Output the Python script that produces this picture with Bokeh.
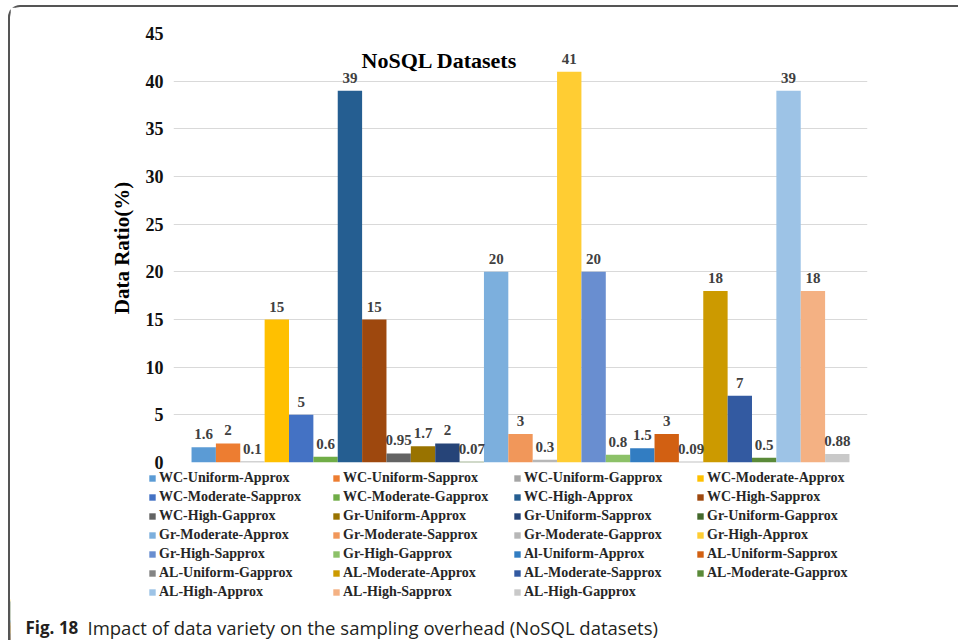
from bokeh.plotting import figure
from bokeh.layouts import column
from bokeh.models import (ColumnDataSource, Legend, LegendItem, Label, LabelSet,
                          Range1d, SingleIntervalTicker)
from bokeh.embed import file_html
from bokeh.resources import INLINE

# ---------------- data ----------------
series = [
    "WC-Uniform-Approx", "WC-Uniform-Sapprox", "WC-Uniform-Gapprox",
    "WC-Moderate-Approx", "WC-Moderate-Sapprox", "WC-Moderate-Gapprox",
    "WC-High-Approx", "WC-High-Sapprox", "WC-High-Gapprox",
    "Gr-Uniform-Approx", "Gr-Uniform-Sapprox", "Gr-Uniform-Gapprox",
    "Gr-Moderate-Approx", "Gr-Moderate-Sapprox", "Gr-Moderate-Gapprox",
    "Gr-High-Approx", "Gr-High-Sapprox", "Gr-High-Gapprox",
    "Al-Uniform-Approx", "AL-Uniform-Sapprox", "AL-Uniform-Gapprox",
    "AL-Moderate-Approx", "AL-Moderate-Sapprox", "AL-Moderate-Gapprox",
    "AL-High-Approx", "AL-High-Sapprox", "AL-High-Gapprox",
]
values = [1.6, 2, 0.1, 15, 5, 0.6, 39, 15, 0.95,
          1.7, 2, 0.07, 20, 3, 0.3, 41, 20, 0.8,
          1.5, 3, 0.09, 18, 7, 0.5, 39, 18, 0.88]
colors = ["#5B9BD5", "#ED7D31", "#A5A5A5", "#FFC000", "#4472C4", "#70AD47",
          "#255E91", "#9E480E", "#636363", "#997300", "#264478", "#43682B",
          "#7CAFDD", "#F1975A", "#B7B7B7", "#FFCD33", "#698ED0", "#8CC168",
          "#327DC2", "#D26012", "#848484", "#CC9A00", "#335AA1", "#5A8A39",
          "#9DC3E6", "#F4B183", "#C9C9C9"]
y_min, y_max, y_step = 0, 45, 5
title_text = "NoSQL Datasets"
y_label = "Data Ratio(%)"
caption_bold = "Fig. 18"
caption_rest = "Impact of data variety on the sampling overhead (NoSQL datasets)"

# ---------------- layout constants (global page px) ----------------
OX, OY = 10, 7                 # content origin inside the rounded frame
TOP_END = 475                  # page y where the chart figure ends
OVERLAP = 6                    # legend panel is pulled up over the chart's empty bottom strip
BOT_START = TOP_END - OVERLAP  # page y where the legend / caption panel starts
W = 958 - OX                   # figure width
H_TOP = TOP_END - OY           # chart figure height
H_BOT = 640 - BOT_START        # legend / caption figure height
FL, FR, FT, FB = 173, 867, 33, 462   # plot frame edges (global px)
SERIF = "Liberation Serif"

n = len(series)
labels = [f"{v:g}" for v in values]
src = ColumnDataSource(dict(x=list(range(n)), top=values, color=colors,
                            name=series, label=labels))

# ---------------- chart ----------------
pad = 0.74
p = figure(width=W, height=H_TOP,
           x_range=Range1d(-0.5 - pad, n - 0.5 + pad),
           y_range=Range1d(y_min, y_max),
           x_axis_location=None, toolbar_location=None, output_backend="svg",
           min_border_left=FL - OX, min_border_right=(OX + W) - FR,
           min_border_top=FT - OY, min_border_bottom=(OY + H_TOP) - FB)
p.frame_align = False
p.outline_line_color = None
p.background_fill_color = "white"
p.border_fill_color = "white"
p.xgrid.grid_line_color = None
p.ygrid.grid_line_color = "#D9D9D9"
p.ygrid.grid_line_width = 1

ax = p.yaxis[0]
ax.ticker = SingleIntervalTicker(interval=y_step)
ax.axis_line_color = None
ax.major_tick_line_color = None
ax.minor_tick_line_color = None
ax.major_tick_out = 0
ax.major_tick_in = 0
ax.minor_tick_out = 0
ax.major_label_standoff = 10
ax.major_label_text_font = SERIF
ax.major_label_text_font_style = "bold"
ax.major_label_text_font_size = "18px"
ax.major_label_text_line_height = 1.0
ax.major_label_text_color = "#111111"
ax.axis_label = y_label
ax.axis_label_text_font = SERIF
ax.axis_label_text_font_style = "bold"
ax.axis_label_text_font_size = "21px"
ax.axis_label_text_color = "#000000"
ax.axis_label_standoff = 9

p.vbar(x="x", top="top", width=1.0, fill_color="color", line_color=None, source=src)
p.add_layout(LabelSet(x="x", y="top", text="label", source=src,
                      text_align="center", text_baseline="alphabetic", y_offset=8,
                      text_font=SERIF, text_font_style="bold",
                      text_font_size="15px", text_color="#404040"))
p.add_layout(Label(x=439 - OX, y=60 - OY, x_units="canvas", y_units="canvas",
                   text=title_text, text_align="center", text_baseline="alphabetic",
                   text_font=SERIF, text_font_style="bold", text_font_size="22px",
                   text_color="#000000"))

# ---------------- legend + caption panel ----------------
q = figure(width=W, height=H_BOT,
           x_range=Range1d(1000, 1000 + W), y_range=Range1d(0, H_BOT),
           x_axis_location=None, y_axis_location=None,
           toolbar_location=None, output_backend="svg",
           min_border_left=0, min_border_right=0, min_border_top=0, min_border_bottom=0)
q.frame_align = False
q.margin = (-OVERLAP, 0, 0, 0)
q.outline_line_color = None
q.background_fill_alpha = 0
q.border_fill_alpha = 0
q.xgrid.grid_line_color = None
q.ygrid.grid_line_color = None
# same bars (out of view) only to feed the legend swatches
rq = q.vbar(x="x", top="top", width=1.0, fill_color="color", line_color=None, source=src)

col_x = [148, 332, 513, 696]     # global px of swatch left edges
row1_center = 478                # global px
row_h, gap = 16, 3
for c in range(4):
    idx = list(range(c, n, 4))
    items = [LegendItem(label=series[i], renderers=[rq], index=i) for i in idx]
    k = len(idx)
    top_local = (row1_center - BOT_START) - row_h / 2
    bottom_local = top_local + k * row_h + (k - 1) * gap
    leg = Legend(items=items, location=(col_x[c] - OX, H_BOT - bottom_local),
                 orientation="vertical", padding=0, margin=0, spacing=gap,
                 glyph_width=8, glyph_height=8, label_height=row_h,
                 label_standoff=3,
                 label_text_font=SERIF, label_text_font_style="bold",
                 label_text_font_size="14px", label_text_color="#262626",
                 background_fill_alpha=0, border_line_color=None)
    q.add_layout(leg, "center")

q.add_layout(Label(x=25 - OX, y=627 - BOT_START, x_units="canvas", y_units="canvas",
                   text=caption_bold, text_align="left", text_baseline="alphabetic",
                   text_font="Open Sans", text_font_style="bold", text_font_size="17px",
                   text_color="#231F20"))
q.add_layout(Label(x=87 - OX, y=627 - BOT_START, x_units="canvas", y_units="canvas",
                   text=caption_rest, text_align="left", text_baseline="alphabetic",
                   text_font="Open Sans", text_font_size="18.5px",
                   text_color="#231F20"))

layout = column(p, q, spacing=0,
                styles={"margin-left": "8px", "margin-top": "5px",
                        "border-left": "2px solid #555555",
                        "border-top": "2px solid #555555",
                        "border-top-left-radius": "12px",
                        "background-color": "white"})

open("out.html", "w").write(file_html(layout, INLINE))
